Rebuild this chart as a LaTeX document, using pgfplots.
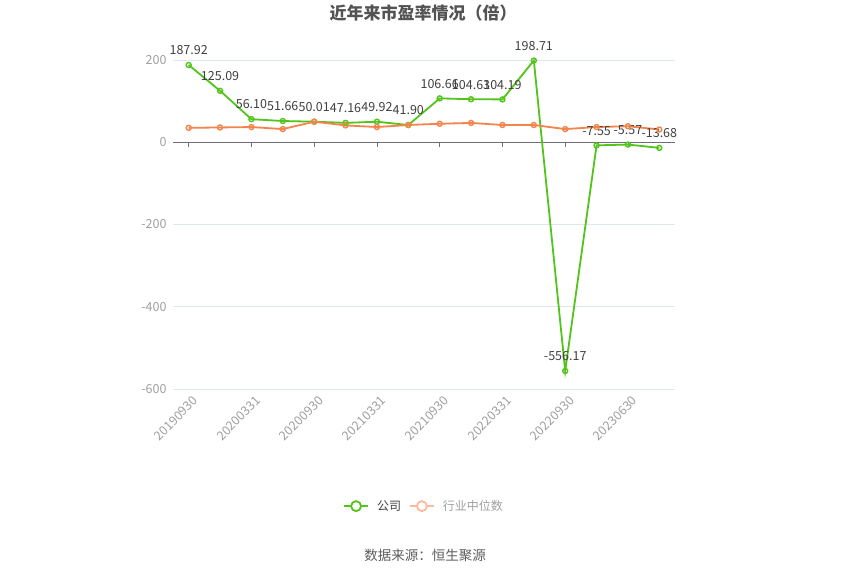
\documentclass[border=0pt]{standalone}
\usepackage{fontspec}
\setmainfont{Noto Sans CJK SC}
\usepackage{pgfplots}
\pgfplotsset{compat=1.18}

\definecolor{gs}{HTML}{52C41A}
\definecolor{med}{HTML}{F5844C}
\definecolor{medlt}{HTML}{FDB99B}
\definecolor{gridc}{HTML}{E0E6F1}
\definecolor{axisc}{HTML}{6E7079}
\definecolor{tickc}{HTML}{A0A0A0}
\definecolor{labc}{HTML}{404040}

\begin{document}
\begin{tikzpicture}[x=1pt,y=1pt]
\fill[white] (0,0) rectangle (850,574);
\path[use as bounding box] (0,0) rectangle (850,574);

\node[font=\fontsize{17}{20}\selectfont\bfseries, text=labc!90] at (423,561) {近年来市盈率情况（倍）};

\begin{axis}[
    at={(173pt,185pt)}, anchor=south west,
    scale only axis,
    width=502pt, height=329pt,
    xmin=-0.5, xmax=15.5,
    ymin=-600, ymax=200,
    ytick={-600,-400,-200,0,200},
    xtick={0,2,4,6,8,10,12,14},
    xticklabels={20190930,20200331,20200930,20210331,20210930,20220331,20220930,20230630},
    xticklabel style={rotate=45, anchor=north east, font=\fontsize{12.5}{14}\selectfont, text=tickc, inner sep=1pt, yshift=-6pt, xshift=-1pt},
    yticklabel style={font=\fontsize{12.5}{14}\selectfont, text=tickc, xshift=-3pt},
    /pgf/number format/assume math mode=true,
    ymajorgrids, grid style={gridc, line width=0.8pt},
    axis line style={draw=none},
    major tick length=0pt,
    clip=false,
    legend style={at={(0.5,-0.356)}, anchor=center, draw=none, fill=none,
        font=\fontsize{12}{14}\selectfont, column sep=6pt},
    legend columns=2,
    legend cell align=left,
]
% zero line and ticks
\draw[axisc, line width=0.8pt] (axis cs:-0.5,0) -- (axis cs:15.5,0);
\pgfplotsinvokeforeach{0,2,4,6,8,10,12,14}{
  \draw[axisc, line width=0.8pt] (axis cs:#1,0) -- ++(0pt,-5pt);
}

\addplot[gs, line width=1.8pt, mark=o, mark size=2.5pt,
    mark options={fill=white, line width=1.4pt},
    nodes near coords, point meta=explicit symbolic,
    every node near coord/.append style={font=\fontsize{12.5}{14}\selectfont, text=labc, yshift=6pt},
    legend image code/.code={
      \draw[gs, line width=1.8pt] (-2pt,0) -- (22pt,0);
      \draw[gs, line width=1.8pt, fill=white] (10pt,0) circle (5pt);
    }]
coordinates {
(0,187.92) [187.92]
(1,125.09) [125.09]
(2,56.10) [56.10]
(3,51.66) [51.66]
(4,50.01) [50.01]
(5,47.16) [47.16]
(6,49.92) [49.92]
(7,41.90) [41.90]
(8,106.66) [106.66]
(9,104.63) [104.63]
(10,104.19) [104.19]
(11,198.71) [198.71]
(12,-556.17) [-556.17]
(13,-7.55) [-7.55]
(14,-5.57) [-5.57]
(15,-13.68) [-13.68]
};
\addlegendentry{\textcolor{labc}{公司}}

\addplot[med, line width=1.8pt, mark=o, mark size=2.5pt,
    mark options={fill=white, line width=1.4pt},
    legend image code/.code={
      \draw[medlt, line width=1.8pt] (-2pt,0) -- (22pt,0);
      \draw[medlt, line width=1.8pt, fill=white] (10pt,0) circle (5pt);
    }]
coordinates {
(0,35) (1,36) (2,37) (3,32) (4,50) (5,41) (6,37) (7,42)
(8,45) (9,47) (10,42) (11,42) (12,32) (13,37) (14,39) (15,31)
};
\addlegendentry{\textcolor{tickc}{行业中位数}}
\end{axis}

\node[font=\fontsize{13.5}{15}\selectfont, text=labc!85] at (425,19) {数据来源：恒生聚源};
\end{tikzpicture}
\end{document}
